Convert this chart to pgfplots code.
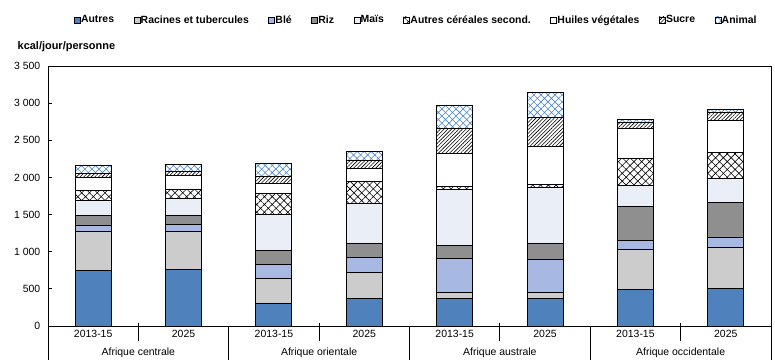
\documentclass[border=0pt]{standalone}
\usepackage{fontspec}
\setmainfont{Liberation Sans}
\usepackage{pgfplots}
\pgfplotsset{compat=1.18}
\usepackage{pgfplotstable}
\usetikzlibrary{patterns.meta}

\definecolor{cAutres}{HTML}{4F81BD}
\definecolor{cRacines}{HTML}{CCCCCC}
\definecolor{cBle}{HTML}{A7B9E3}
\definecolor{cRiz}{HTML}{8F8F8F}
\definecolor{cMais}{HTML}{EAEEF7}
\definecolor{cAnimal}{HTML}{4A86D0}

\pgfplotstableread{
x autres racines ble riz mais acs huiles sucre animal
0 750 520 85 135 200 135 175 55 100
1 763 507 99 121 224 126 188 54 94
2 305 337 188 180 493 274 144 98 171
3 372 350 202 189 538 296 175 108 121
4 373 80 458 175 754 40 444 337 309
5 373 80 445 206 763 40 512 390 336
6 485 547 121 449 292 364 394 94 36
7 507 552 135 471 314 359 431 107 41
}\data

\begin{document}
\fontsize{10.5}{12.5}\selectfont
\begin{tikzpicture}
\begin{axis}[
  scale only axis, width=723bp, height=260bp,
  ybar stacked, bar width=36bp,
  xmin=-0.5, xmax=7.5, ymin=0, ymax=3500,
  xtick={0,...,7},
  xticklabels={2013-15,2025,2013-15,2025,2013-15,2025,2013-15,2025},
  major x tick style={draw=none},
  xticklabel style={yshift=-1bp},
  ytick={0,500,...,3500},
  yticklabels={0,500,1 000,1 500,2 000,2 500,3 000,3 500},
  yticklabel style={xshift=-4bp},
  ytick pos=left, xtick pos=bottom, tick align=inside, major tick length=4bp,
  axis line style={line width=0.9bp},
  every tick/.style={black, line width=0.8bp},
  clip=false,
  legend columns=9,
  legend style={draw=none, fill=none, at={(0.5,1)}, anchor=center, xshift=6bp, yshift=46bp,
    font=\bfseries,
    /tikz/every even column/.append style={column sep=19bp},
    nodes={inner sep=0.5bp}},
  legend image code/.code={\draw[#1, line width=0.6bp] (0bp,-3bp) rectangle (6bp,3bp);},
  every axis plot/.append style={draw=black, line width=1bp},
]
\addplot[fill=cAutres] table[x=x,y=autres]{\data};
\addlegendentry{Autres}
\addplot[fill=cRacines] table[x=x,y=racines]{\data};
\addlegendentry{Racines et tubercules}
\addplot[fill=cBle] table[x=x,y=ble]{\data};
\addlegendentry{Blé}
\addplot[fill=cRiz] table[x=x,y=riz]{\data};
\addlegendentry{Riz}
\addplot[fill=cMais] table[x=x,y=mais]{\data};
\addlegendentry{Maïs}
\addplot[pattern={Hatch[angle=45,distance=5.5bp,line width=0.6bp]}, pattern color=black] table[x=x,y=acs]{\data};
\addlegendentry{Autres céréales second.}
\addplot[fill=white] table[x=x,y=huiles]{\data};
\addlegendentry{Huiles végétales}
\addplot[pattern={Lines[angle=45,distance=2.6bp,line width=0.6bp]}, pattern color=black] table[x=x,y=sucre]{\data};
\addlegendentry{Sucre}
\addplot[pattern={Hatch[angle=45,distance=5bp,line width=0.6bp]}, pattern color=cAnimal] table[x=x,y=animal]{\data};
\addlegendentry{Animal}

\pgfplotsinvokeforeach{-0.5,1.5,3.5,5.5,7.5}{\draw[line width=0.9bp] (axis cs:#1,0) -- ++(0pt,-34bp);}
\pgfplotsinvokeforeach{0.5,2.5,4.5,6.5}{\draw[line width=0.9bp] (axis cs:#1,0) ++(0pt,3bp) -- ++(0pt,-18bp);}
\node[anchor=base] at (axis cs:0.5,0) [yshift=-29bp] {Afrique centrale};
\node[anchor=base] at (axis cs:2.5,0) [yshift=-29bp] {Afrique orientale};
\node[anchor=base] at (axis cs:4.5,0) [yshift=-29bp] {Afrique australe};
\node[anchor=base] at (axis cs:6.5,0) [yshift=-29bp] {Afrique occidentale};
\node[anchor=base west, font=\fontsize{11}{13}\bfseries] at (rel axis cs:0,1) [xshift=-34bp, yshift=16bp] {kcal/jour/personne};
\coordinate (ll) at (rel axis cs:0,0);
\coordinate (ur) at (rel axis cs:1,1);
\end{axis}
\pgfresetboundingbox
\path ([shift={(-48bp,-34bp)}]ll) rectangle ([shift={(4bp,66bp)}]ur);
\end{tikzpicture}
\end{document}
